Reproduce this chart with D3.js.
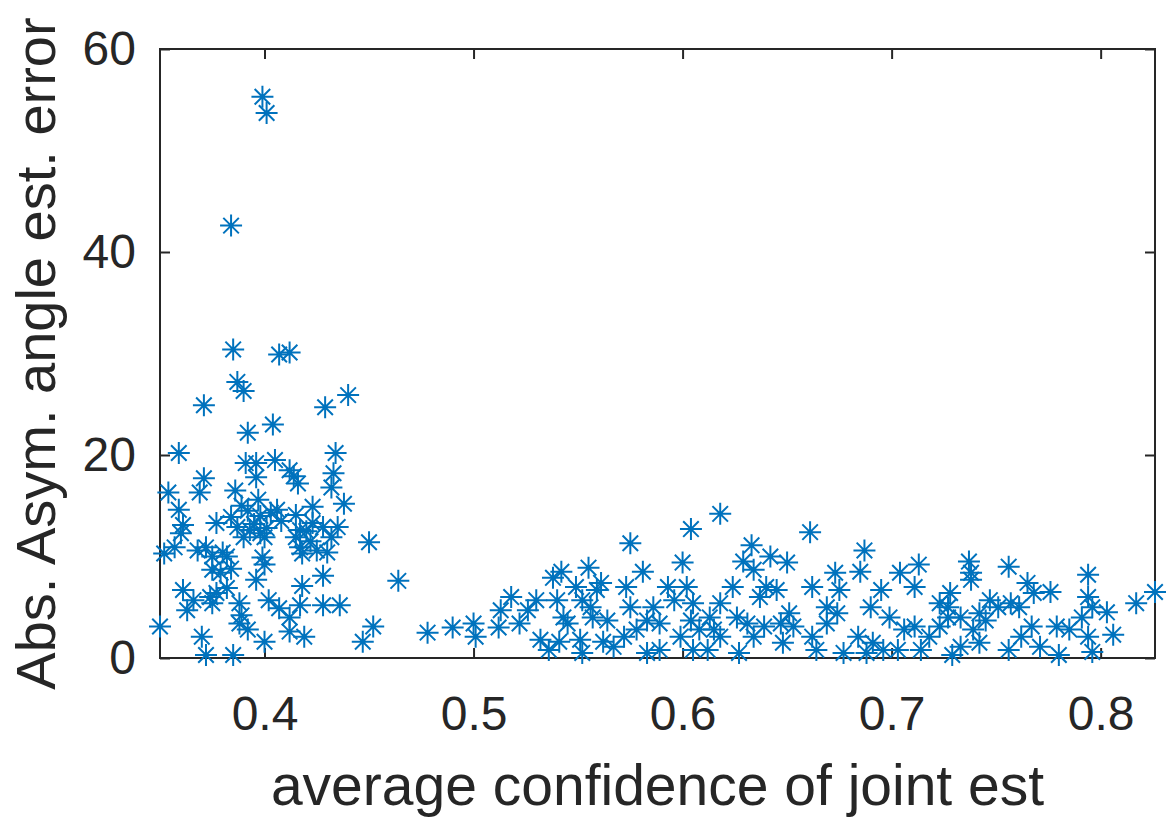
<!DOCTYPE html>
<html>
<head>
<meta charset="utf-8">
<script src="https://cdn.jsdelivr.net/npm/d3@7"></script>
<style>
  body { margin: 0; background: #fff; }
  svg { display: block; }
  text { font-family: "Liberation Sans", Arial, Helvetica, sans-serif; fill: #262626; }
</style>
</head>
<body>
<svg id="chart" width="1172" height="825"></svg>
<script>
// average confidence of joint estimate (x) and absolute asymmetry angle error (y)
const confidence = [
  0.399, 0.401, 0.384, 0.385, 0.407, 0.412, 0.387, 0.390, 0.371, 0.429, 0.440, 0.392, 0.404,
  0.359, 0.434, 0.391, 0.396, 0.405, 0.414, 0.412, 0.416, 0.433, 0.432, 0.371, 0.369, 0.354,
  0.386, 0.396, 0.397, 0.438, 0.423, 0.359, 0.361, 0.360, 0.352, 0.357, 0.377, 0.384, 0.387,
  0.390, 0.393, 0.398, 0.400, 0.403, 0.406, 0.415, 0.417, 0.415, 0.423, 0.428, 0.435, 0.432,
  0.425, 0.418, 0.417, 0.430, 0.368, 0.372, 0.375, 0.380, 0.375, 0.379, 0.384, 0.382, 0.400,
  0.399, 0.450, 0.396, 0.428, 0.418, 0.464, 0.361, 0.366, 0.374, 0.377, 0.375, 0.363, 0.382,
  0.388, 0.389, 0.388, 0.392, 0.402, 0.407, 0.412, 0.417, 0.428, 0.436, 0.412, 0.419, 0.350,
  0.370, 0.400, 0.372, 0.385, 0.447, 0.452, 0.478, 0.490, 0.395, 0.398, 0.401, 0.392, 0.408,
  0.422, 0.420, 0.389,
  0.500, 0.501, 0.512, 0.518, 0.513, 0.522, 0.530, 0.526, 0.532, 0.536, 0.538, 0.542, 0.540,
  0.543, 0.545, 0.541, 0.549, 0.555, 0.552, 0.556, 0.559, 0.561, 0.557, 0.564, 0.551, 0.552,
  0.562, 0.567, 0.573, 0.581, 0.575, 0.575, 0.572, 0.578, 0.583, 0.589, 0.593, 0.586, 0.583,
  0.589, 0.596, 0.604, 0.600, 0.602, 0.605, 0.604, 0.599, 0.605, 0.612, 0.608,
  0.618, 0.661, 0.687, 0.633, 0.642, 0.650, 0.629, 0.634, 0.624, 0.640, 0.637, 0.645, 0.618,
  0.613, 0.615, 0.618, 0.626, 0.631, 0.634, 0.639, 0.647, 0.651, 0.653, 0.648, 0.627, 0.662,
  0.673, 0.685, 0.675, 0.669, 0.674, 0.669, 0.662, 0.664, 0.677, 0.684, 0.691, 0.690, 0.695,
  0.699, 0.704, 0.713, 0.711, 0.706, 0.711, 0.718, 0.703, 0.714, 0.723, 0.727, 0.688, 0.696,
  0.737, 0.738, 0.738, 0.756, 0.794, 0.826, 0.817, 0.776, 0.765, 0.768, 0.728, 0.727, 0.733,
  0.747, 0.751, 0.757, 0.761, 0.742, 0.745, 0.794, 0.796, 0.791, 0.803, 0.806, 0.779, 0.785,
  0.794, 0.796, 0.780, 0.767, 0.762, 0.756, 0.742, 0.733, 0.729, 0.771, 0.739, 0.723
];
const angleError = [
  55.3, 53.7, 42.6, 30.4, 29.9, 30.1, 27.2, 26.3, 24.9, 24.7, 25.9, 22.2, 23.0,
  20.2, 20.2, 19.2, 19.2, 19.5, 17.9, 18.5, 17.2, 18.2, 16.8, 17.7, 16.3, 16.3,
  16.5, 17.8, 15.6, 15.2, 14.9, 14.6, 13.1, 12.3, 10.3, 10.9, 13.3, 13.9, 12.9,
  11.9, 12.6, 12.3, 11.9, 14.3, 14.6, 14.1, 12.6, 11.9, 13.3, 12.9, 12.9, 11.9,
  10.6, 10.3, 10.9, 10.4, 10.6, 10.9, 10.0, 10.4, 8.7, 8.4, 8.8, 10.0, 9.2,
  9.9, 11.4, 7.7, 8.1, 7.1, 7.6, 6.7, 5.7, 6.0, 6.4, 5.4, 4.7, 6.9,
  5.4, 4.2, 3.4, 2.8, 5.7, 4.9, 4.0, 5.2, 5.2, 5.2, 2.6, 2.1, 3.1,
  2.1, 1.6, 0.3, 0.3, 1.6, 3.1, 2.5, 3.0, 13.2, 14.0, 12.8, 14.5, 13.5,
  11.5, 12.5, 15.0,
  3.4, 2.1, 3.0, 6.0, 4.7, 3.4, 5.7, 4.7, 1.8, 0.8, 7.9, 8.5, 5.7,
  4.0, 3.4, 1.6, 7.0, 8.9, 5.7, 5.0, 6.7, 7.4, 4.0, 3.7, 1.8, 0.5,
  1.6, 1.1, 7.0, 8.5, 11.3, 5.0, 2.1, 2.8, 0.5, 0.8, 7.0, 5.0, 3.7,
  3.4, 5.7, 12.7, 9.4, 7.0, 5.4, 3.7, 2.1, 0.8, 0.8, 2.8,
  14.2, 12.4, 10.6, 11.1, 10.0, 9.4, 9.5, 8.7, 7.0, 7.0, 6.0, 6.7, 5.4,
  4.0, 2.8, 2.1, 4.0, 3.4, 2.1, 3.1, 3.4, 4.4, 3.1, 1.5, 0.5, 7.0,
  8.4, 8.5, 6.7, 5.0, 4.4, 3.4, 2.1, 0.8, 0.5, 2.1, 1.5, 5.0, 6.7,
  4.0, 8.4, 9.2, 7.0, 2.8, 3.1, 2.1, 0.8, 0.8, 5.4, 4.0, 0.5, 0.8,
  9.5, 8.4, 7.7, 9.0, 8.2, 6.5, 5.4, 6.5, 7.4, 6.4, 6.4, 5.0, 4.0,
  5.7, 5.0, 5.4, 5.0, 4.4, 3.7, 6.0, 5.0, 4.0, 4.5, 2.3, 3.1, 2.8,
  2.1, 0.6, 0.3, 3.1, 2.1, 0.8, 1.5, 1.1, 0.3, 1.1, 2.8, 3.1
];
const xTicks = [0.4, 0.5, 0.6, 0.7, 0.8];
const yTicks = [0, 20, 40, 60];

const svg = d3.select('#chart');
const plotLeft = 160, plotRight = 1155, plotTop = 49, plotBottom = 658;
const axisColor = '#262626';
const markColor = '#0072BD';

const x = d3.scaleLinear().domain([0.35, 0.826]).range([plotLeft, plotRight]);
const y = d3.scaleLinear().domain([0, 60]).range([plotBottom, plotTop]);

const data = confidence.map((c, i) => ({ c: c, e: angleError[i] }));

// asterisk marker: plus + cross
const r = 11, d = r * 0.707;
const star = `M${-r},0H${r}M0,${-r}V${r}M${-d},${-d}L${d},${d}M${-d},${d}L${d},${-d}`;

// axes (ticks inside, box on)
function styleAxis(g, showLabels) {
  g.select('.domain').remove();
  g.selectAll('.tick line').attr('stroke', axisColor).attr('stroke-width', 2);
  if (!showLabels) g.selectAll('.tick text').remove();
  else g.selectAll('.tick text').style('font-size', '48px').attr('fill', axisColor);
}

svg.append('g')
  .attr('transform', `translate(0,${plotBottom})`)
  .call(d3.axisBottom(x).tickValues(xTicks).tickFormat(d3.format('.1f')).tickSize(-10).tickPadding(38))
  .call(g => styleAxis(g, true));

svg.append('g')
  .attr('transform', `translate(0,${plotTop})`)
  .call(d3.axisTop(x).tickValues(xTicks).tickSize(-10))
  .call(g => styleAxis(g, false));

svg.append('g')
  .attr('transform', `translate(${plotLeft},0)`)
  .call(d3.axisLeft(y).tickValues(yTicks).tickSize(-10).tickPadding(24))
  .call(g => styleAxis(g, true));

svg.append('g')
  .attr('transform', `translate(${plotRight},0)`)
  .call(d3.axisRight(y).tickValues(yTicks).tickSize(-10))
  .call(g => styleAxis(g, false));

svg.append('rect')
  .attr('x', plotLeft).attr('y', plotTop)
  .attr('width', plotRight - plotLeft).attr('height', plotBottom - plotTop)
  .attr('fill', 'none').attr('stroke', axisColor).attr('stroke-width', 2);

// points
svg.append('g')
  .selectAll('path')
  .data(data)
  .enter().append('path')
  .attr('d', star)
  .attr('transform', p => `translate(${x(p.c)},${y(p.e)})`)
  .attr('fill', 'none')
  .attr('stroke', markColor)
  .attr('stroke-width', 2);

// labels
svg.append('text')
  .attr('x', (plotLeft + plotRight) / 2).attr('y', 805)
  .attr('text-anchor', 'middle')
  .style('font-size', '57px')
  .text('average confidence of joint est');

svg.append('text')
  .attr('transform', `translate(55,${(plotTop + plotBottom) / 2}) rotate(-90)`)
  .attr('text-anchor', 'middle')
  .style('font-size', '56px')
  .text('Abs. Asym. angle est. error');
</script>
</body>
</html>
